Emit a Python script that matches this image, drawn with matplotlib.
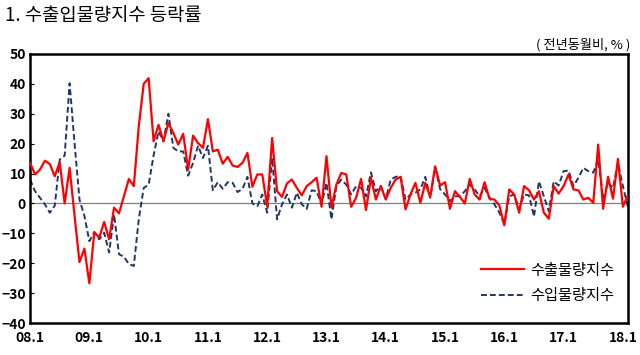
import numpy as np
import matplotlib
matplotlib.use("Agg")
import matplotlib.pyplot as plt

plt.rcParams['font.family'] = ['Noto Sans CJK KR', 'DejaVu Sans']

# ============================================================
# Data (monthly, 2008.1 - 2018.2, % yoy)
# ============================================================
tick_labels = ["08.1", "09.1", "10.1", "11.1", "12.1", "13.1",
               "14.1", "15.1", "16.1", "17.1", "18.1"]

export_vol = [
    13.6, 9.7, 11.3, 14.3, 13.2, 9.1, 13.8, 0.0, 11.9, -4.0, -19.6, -15.1,
    -26.7, -9.6, -11.4, -6.2, -12.0, -1.4, -3.3, 2.4, 8.2, 5.8, 25.8, 40.0,
    41.9, 20.8, 26.3, 20.8, 26.9, 23.6, 19.7, 23.3, 11.3, 22.7, 20.2, 18.6,
    28.2, 17.4, 18.0, 13.3, 15.6, 12.7, 12.2, 13.6, 16.9, 5.6, 9.7, 9.7,
    -0.9, 21.9, 4.1, 2.2, 6.7, 8.0, 5.2, 2.7, 5.8, 7.1, 8.6, -1.1,
    15.8, -1.4, 6.3, 10.2, 9.7, -1.1, 1.9, 8.2, -2.2, 8.6, 1.3, 5.8,
    1.3, 5.2, 8.0, 8.9, -2.0, 3.0, 6.9, 0.2, 6.9, 2.2, 12.4, 6.0,
    7.1, -1.8, 4.1, 2.2, 0.0, 8.2, 3.0, 1.3, 7.1, 1.6, 1.3, -0.7,
    -7.3, 4.7, 3.0, -3.1, 5.8, 4.4, 1.3, 4.1, -3.1, -5.1, 5.8, 3.3,
    5.8, 9.7, 4.7, 4.4, 1.3, 1.9, 0.2, 19.7, -1.8, 8.9, 1.6, 14.9,
    -1.1, 2.7,
]

import_vol = [
    8.0, 4.1, 1.9, -0.3, -3.1, -0.7, 14.7, 16.0, 40.2, 20.2, 1.3, -4.2,
    -12.6, -9.6, -12.0, -9.8, -16.4, -3.7, -17.0, -17.8, -20.3, -20.9, -5.3, 5.2,
    6.3, 16.0, 24.1, 20.8, 30.0, 18.6, 17.4, 17.4, 9.3, 13.6, 19.3, 15.2,
    19.3, 4.4, 7.1, 4.9, 7.1, 6.9, 3.8, 4.9, 8.9, 0.0, -0.9, 3.0,
    -3.1, 15.2, -5.3, -0.3, 3.0, -1.4, 3.6, -0.3, -1.8, 4.4, 4.1, -0.3,
    6.9, -5.3, 5.8, 8.0, 6.3, 3.0, 5.8, 5.2, 2.4, 10.4, 4.1, 5.8,
    1.6, 8.0, 8.9, 9.1, 1.3, 3.0, 3.6, 4.7, 8.9, 1.9, 12.0, 4.8,
    3.0, 0.8, 2.4, 2.4, 4.1, 6.3, 4.7, 2.4, 5.2, 1.9, -0.3, -3.1,
    -7.0, 2.4, 3.0, -1.8, 3.0, 2.7, -4.4, 7.4, 2.4, -2.6, 7.4, 6.0,
    10.8, 11.0, 5.8, 8.6, 11.9, 10.8, 10.3, 14.7, 1.6, 6.9, 5.2, 13.6,
    5.8, -1.1,
]

x = np.arange(len(export_vol))

# ============================================================
# Figure
# ============================================================
fig = plt.figure(figsize=(6.4, 3.55), dpi=100)
ax = fig.add_axes([0.047, 0.090, 0.934, 0.758])

ax.axhline(0, color="#808080", linewidth=0.9, zorder=1)
ax.plot(x, import_vol, color="#1F3864", linewidth=1.4, linestyle=(0, (3, 1.6)),
        label="수입물량지수", zorder=2)
ax.plot(x, export_vol, color="#FF0000", linewidth=1.6,
        label="수출물량지수", zorder=3)

ax.set_xlim(0, len(x) - 1)
ax.set_ylim(-40, 50)
ax.set_yticks(np.arange(-40, 51, 10))
ax.set_xticks(np.arange(0, len(x), 12))
ax.set_xticklabels(tick_labels)

for lab in ax.get_yticklabels() + ax.get_xticklabels():
    lab.set_fontweight("bold")
    lab.set_fontsize(10)

ax.tick_params(axis="y", direction="in", length=3, width=0.8, pad=3)
ax.tick_params(axis="x", length=0, pad=6)

for side in ["left", "right", "top", "bottom"]:
    ax.spines[side].set_linewidth(1.8)
    ax.spines[side].set_color("black")

handles, labels = ax.get_legend_handles_labels()
ax.legend(handles[::-1], labels[::-1], loc="lower right",
          bbox_to_anchor=(1.0, 0.02), frameon=False, fontsize=11,
          handlelength=2.8, handletextpad=0.4, labelspacing=0.55)

fig.text(0.008, 0.955, "1. 수출입물량지수 등락률", fontsize=13.5,
         fontweight="medium", ha="left", va="center")
fig.text(0.985, 0.873, "( 전년동월비, % )", fontsize=9.5,
         fontweight="medium", ha="right", va="center")

fig.savefig("out.png", dpi=100)
plt.close(fig)
